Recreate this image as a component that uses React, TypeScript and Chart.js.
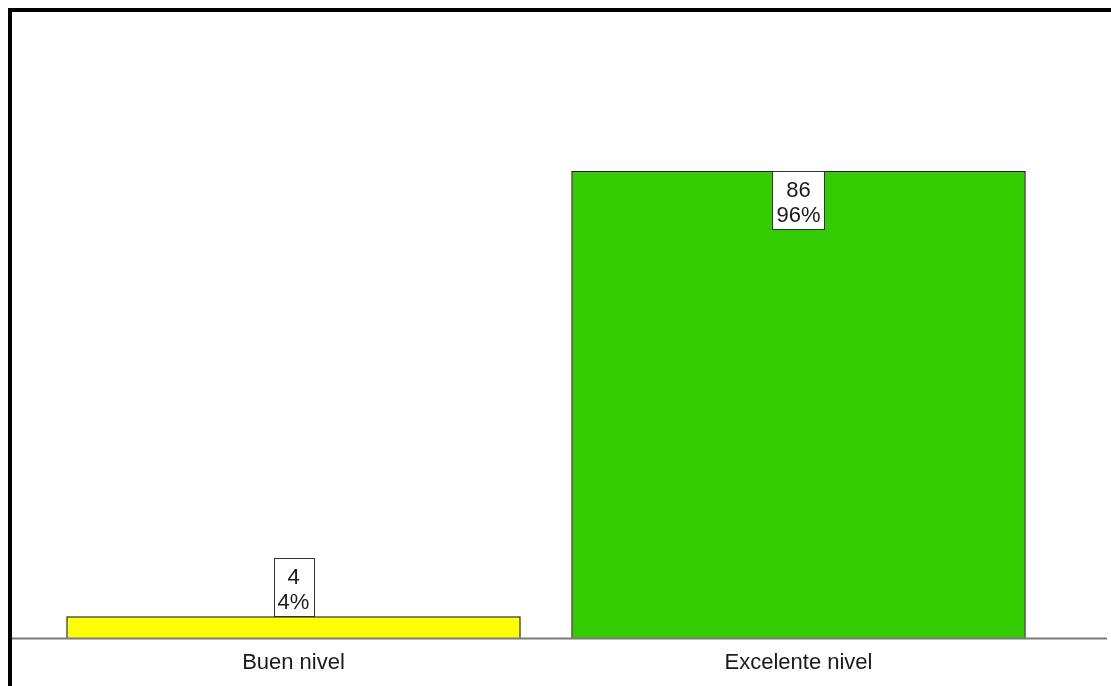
import React, { useEffect, useRef } from "react";
import { Chart, registerables } from "chart.js";

Chart.register(...registerables);

const categories = ["Buen nivel", "Excelente nivel"];
const counts = [4, 86];
const percentLabels = ["4%", "96%"];
const barColors = ["#FFFF00", "#33CC00"];

const FONT = '22px "Liberation Sans", Arial, sans-serif';

const overlayPlugin = {
  id: "overlay",
  afterDatasetsDraw(chart: any) {
    const ctx = chart.ctx;
    const area = chart.chartArea;
    const xScale = chart.scales.x;
    const meta = chart.getDatasetMeta(0);
    ctx.save();
    // axis line across full width
    ctx.fillStyle = "#7a7a7a";
    ctx.fillRect(0, Math.round(area.bottom) - 0.5, 1095, 2);

    ctx.font = FONT;
    // category labels
    ctx.fillStyle = "#1a1a1a";
    ctx.textAlign = "center";
    ctx.textBaseline = "alphabetic";
    categories.forEach((c, i) => {
      const x = xScale.getPixelForValue(i);
      ctx.fillText(c, x, area.bottom + 31);
    });

    // value boxes
    meta.data.forEach((bar: any, i: number) => {
      const l1 = String(counts[i]);
      const l2 = percentLabels[i];
      const w = Math.max(ctx.measureText(l1).width, ctx.measureText(l2).width) + 8;
      const h = 58;
      const barH = bar.base - bar.y;
      const top = barH > 80 ? bar.y : bar.y - h;
      const left = Math.round(bar.x - w / 2) + 0.5;
      ctx.fillStyle = "#ffffff";
      ctx.fillRect(left, Math.round(top) + 0.5, Math.round(w), h);
      ctx.strokeStyle = "#333333";
      ctx.lineWidth = 1;
      ctx.strokeRect(left, Math.round(top) + 0.5, Math.round(w), h);
      ctx.fillStyle = "#1a1a1a";
      ctx.fillText(l1, bar.x, top + 25.5);
      ctx.fillText(l2, bar.x, top + 51);
    });
    ctx.restore();
  },
};

export default function App() {
  const ref = useRef<HTMLCanvasElement>(null);
  useEffect(() => {
    if (!ref.current) return;
    const chart = new Chart(ref.current, {
      type: "bar",
      data: {
        labels: categories,
        datasets: [
          {
            data: counts,
            backgroundColor: barColors,
            borderColor: "#1f1f1f",
            borderWidth: 1.5,
            categoryPercentage: 1,
            barPercentage: 0.9,
          },
        ],
      },
      options: {
        animation: false,
        responsive: false,
        maintainAspectRatio: false,
        events: [],
        layout: { padding: { left: 29, right: 60, top: 83, bottom: 48 } },
        plugins: { legend: { display: false }, tooltip: { enabled: false } },
        scales: {
          x: { display: false },
          y: { display: false, min: 0, max: 100 },
        },
      },
      plugins: [overlayPlugin],
    });
    return () => chart.destroy();
  }, []);
  return (
    <div
      style={{
        position: "absolute",
        left: 8,
        top: 8,
        width: 1103,
        height: 678,
        boxSizing: "border-box",
        borderLeft: "4px solid #000",
        borderTop: "4px solid #000",
        background: "#fff",
        overflow: "hidden",
      }}
    >
      <canvas ref={ref} width={1099} height={674} style={{ display: "block" }} />
    </div>
  );
}
